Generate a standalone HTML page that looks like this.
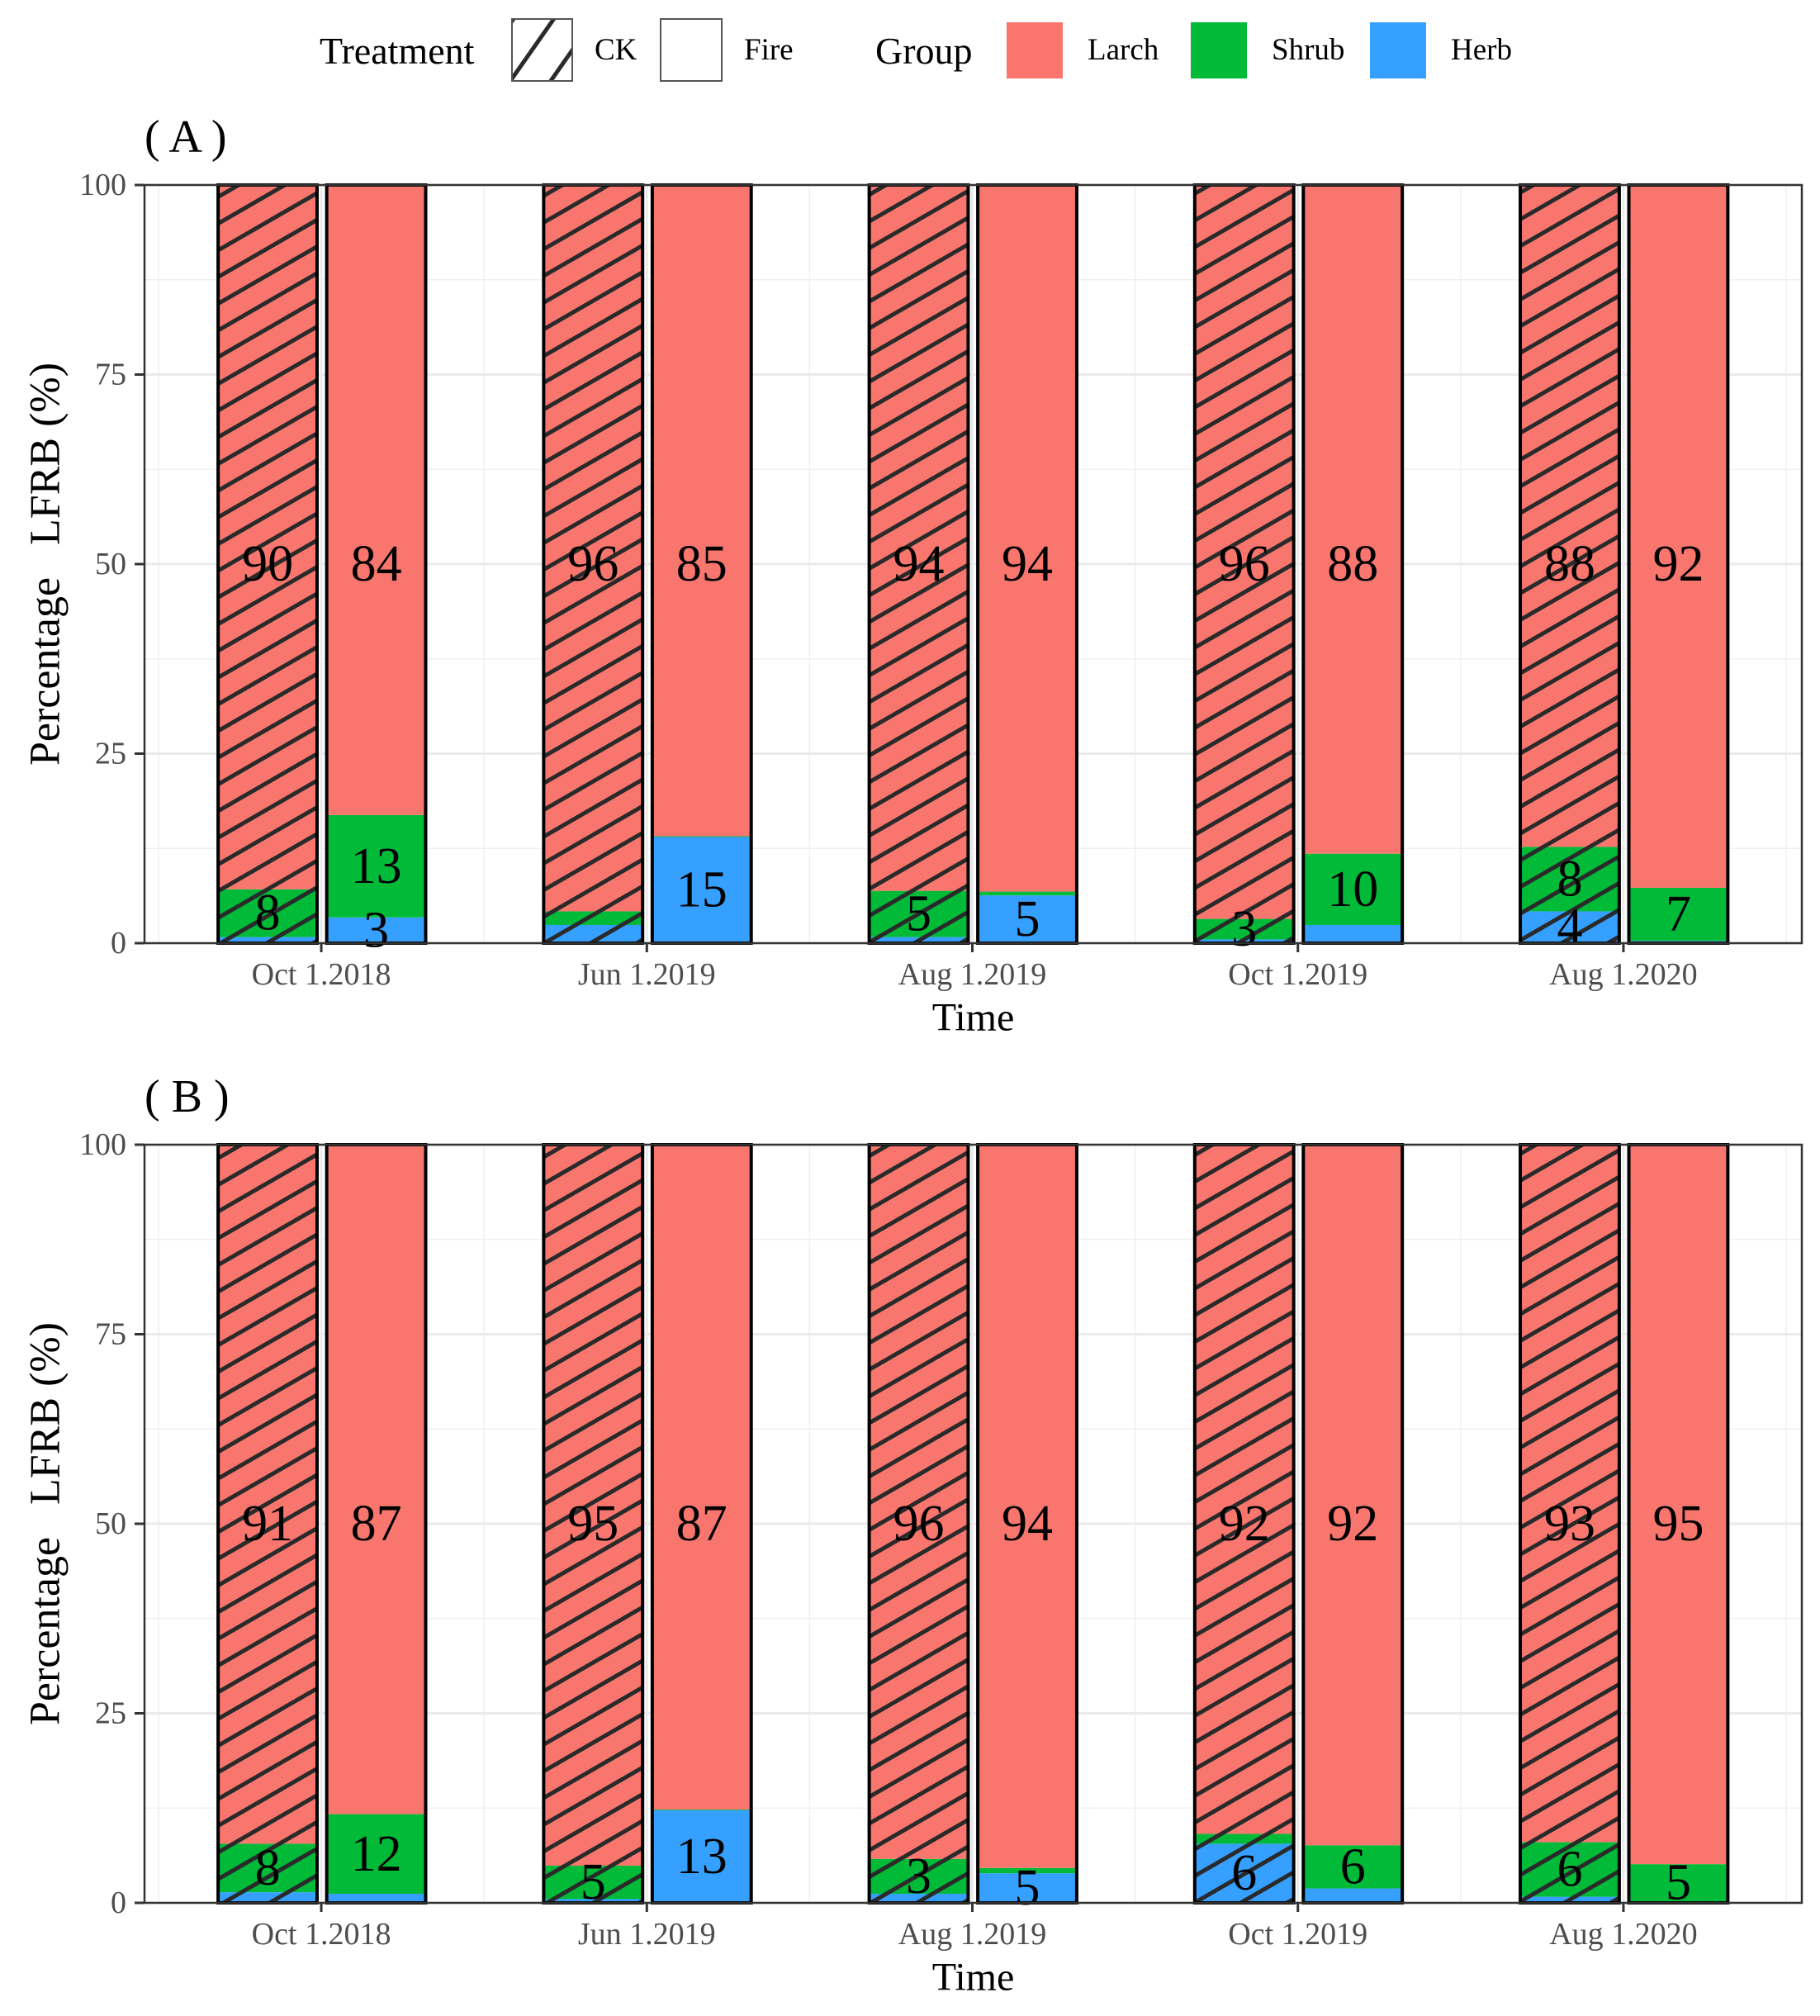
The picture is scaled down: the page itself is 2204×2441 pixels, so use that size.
<!DOCTYPE html>
<html><head><meta charset="utf-8"><style>
html,body{margin:0;padding:0;background:#fff;}
svg{display:block;font-family:"Liberation Serif",serif;}
</style></head><body>
<svg id="fig" width="2204" height="2441" viewBox="0 0 2204 2441" xmlns="http://www.w3.org/2000/svg">
<defs>
<pattern id="hatch" patternUnits="userSpaceOnUse" width="40" height="28" patternTransform="rotate(-30)">
<line x1="0" y1="2.5" x2="40" y2="2.5" stroke="#2a2a2a" stroke-width="5"/>
</pattern>
<pattern id="hatchKey" patternUnits="userSpaceOnUse" width="40" height="40" patternTransform="rotate(-55)">
<line x1="0" y1="2.5" x2="40" y2="2.5" stroke="#2a2a2a" stroke-width="5"/>
</pattern>
</defs>
<g>
<text x="387" y="77" font-size="46">Treatment</text>
<rect x="620" y="23" width="73" height="75" fill="url(#hatchKey)" stroke="#555" stroke-width="2"/>
<text x="720" y="72" font-size="37">CK</text>
<rect x="800" y="23" width="74" height="75" fill="#fff" stroke="#555" stroke-width="2"/>
<text x="901" y="72" font-size="37">Fire</text>
<text x="1060" y="77" font-size="46">Group</text>
<rect x="1219" y="27" width="68" height="68" fill="#F8766D"/>
<text x="1317" y="72" font-size="37">Larch</text>
<rect x="1442" y="27" width="68" height="68" fill="#00BA38"/>
<text x="1540" y="72" font-size="37">Shrub</text>
<rect x="1659" y="27" width="68" height="68" fill="#35A0FF"/>
<text x="1757" y="72" font-size="37">Herb</text>
</g>
</svg>
<script>
const categories = ["Oct 1.2018","Jun 1.2019","Aug 1.2019","Oct 1.2019","Aug 1.2020"];
const yTicks = [0,25,50,75,100];
// Panel A
const aCkHerb = [0.8,2.4,0.8,0.5,4.2];
const aCkShrub = [6.3,1.8,6.1,2.7,8.5];
const aFireHerb = [3.4,14.0,6.3,2.4,0.3];
const aFireShrub = [13.5,0.1,0.5,9.4,7.0];
const aCkLabels = [["","8","90"],["","","96"],["","5","94"],["","3","96"],["4","8","88"]];
const aFireLabels = [["3","13","84"],["15","","85"],["5","","94"],["","10","88"],["","7","92"]];
// Panel B
const bCkHerb = [1.4,0.5,1.2,7.8,0.8];
const bCkShrub = [6.4,4.4,4.6,1.3,7.2];
const bFireHerb = [1.2,12.2,3.9,1.9,0.2];
const bFireShrub = [10.5,0.1,0.7,5.7,4.9];
const bCkLabels = [["","8","91"],["","5","95"],["","3","96"],["6","","92"],["","6","93"]];
const bFireLabels = [["","12","87"],["13","","87"],["5","","94"],["","6","92"],["","5","95"]];

const NS="http://www.w3.org/2000/svg";
const svg=document.getElementById('fig');
function mk(tag,attrs,parent){const e=document.createElementNS(NS,tag);for(const k in attrs)e.setAttribute(k,attrs[k]);(parent||svg).appendChild(e);return e;}
const colors={herb:"#35A0FF",shrub:"#00BA38",larch:"#F8766D"};

function panel(top,tag,ckH,ckS,fiH,fiS,ckL,fiL){
  const L=175,R=2182,T=top,B=top+918;
  const x0=0.457,x1=5.548;
  const xs=v=>L+(v-x0)/(x1-x0)*(R-L);
  const ys=v=>B-v/100*(B-T);
  const g=mk('g',{});
  
  
  for(let v=12.5;v<100;v+=25){const l=mk('line',{x1:L,x2:R,y1:ys(v),y2:ys(v),stroke:'#f0f0f0','stroke-width':1.5},g);}
  for(let i=0;i<=categories.length;i++){const x=xs(i+0.5);const l=mk('line',{x1:x,x2:x,y1:T,y2:B,stroke:'#f0f0f0','stroke-width':1.5},g);}
  yTicks.forEach(v=>{const l=mk('line',{x1:L,x2:R,y1:ys(v),y2:ys(v),stroke:'#ebebeb','stroke-width':3},g);});
  categories.forEach((c,i)=>{const l=mk('line',{x1:xs(i+1),x2:xs(i+1),y1:T,y2:B,stroke:'#ebebeb','stroke-width':3},g);});
  const barW=0.304*(R-L)/(x1-x0);
  function bar(i,off,h,s,labels,ck,name){
    const cx=xs(i+1)+off;const bx=cx-barW/2;
    const larch=100-h-s;
    const segs=[['herb',0,h],['shrub',h,s],['larch',h+s,larch]];
    segs.forEach((sg,k)=>{
      const r=mk('rect',{x:bx,y:ys(sg[1]+sg[2]),width:barW,height:ys(sg[1])-ys(sg[1]+sg[2]),fill:colors[sg[0]]},g);
      
      
    });
    if(ck){const hr=mk('rect',{x:bx,y:ys(100),width:barW,height:ys(0)-ys(100),fill:'url(#hatch)'},g);}
    const o=mk('rect',{x:bx,y:ys(100),width:barW,height:ys(0)-ys(100),fill:'none',stroke:'#000','stroke-width':4},g);
    
    
    segs.forEach((sg,k)=>{
      const txt=labels[i][k];if(!txt)return;
      const yv=k===2?50:sg[1]+sg[2]/2;
      const t=mk('text',{x:cx,y:ys(yv),'text-anchor':'middle','dominant-baseline':'central','font-size':62,fill:'#000'},g);
      t.textContent=txt;
      
      
    });
  }
  categories.forEach((c,i)=>{
    bar(i,-65,ckH[i],ckS[i],ckL,true,'bar-ck');
    bar(i,66.5,fiH[i],fiS[i],fiL,false,'bar-fire');
  });
  const bd=mk('rect',{x:L,y:T,width:R-L,height:B-T,fill:'none',stroke:'#333','stroke-width':2.5},g);
  
  yTicks.forEach(v=>{
    const l=mk('line',{x1:L-12,x2:L,y1:ys(v),y2:ys(v),stroke:'#333','stroke-width':3},g);
    
    const t=mk('text',{x:L-22,y:ys(v),'text-anchor':'end','dominant-baseline':'central','font-size':38,fill:'#4d4d4d'},g);
    t.textContent=v;
  });
  categories.forEach((c,i)=>{
    const x=xs(i+1);
    const l=mk('line',{x1:x,x2:x,y1:B,y2:B+11,stroke:'#333','stroke-width':3},g);
    
    const t=mk('text',{x:x,y:B+38,'text-anchor':'middle','dominant-baseline':'central','font-size':38,fill:'#4d4d4d'},g);
    t.textContent=c;
  });
  const xt=mk('text',{x:(L+R)/2,y:B+90,'text-anchor':'middle','dominant-baseline':'central','font-size':48},g);
  xt.textContent='Time';
  const yt=mk('text',{x:0,y:0,'text-anchor':'middle','dominant-baseline':'central','font-size':52,transform:'translate(55,'+((T+B)/2)+') rotate(-90)'},g);
  yt.textContent='Percentage\u00A0\u00A0\u00A0LFRB (%)';
  const pt=mk('text',{x:175,y:T-58,'dominant-baseline':'central','font-size':56},g);
  pt.textContent='( '+tag+' )';
}
panel(224,'A',aCkHerb,aCkShrub,aFireHerb,aFireShrub,aCkLabels,aFireLabels);
panel(1386,'B',bCkHerb,bCkShrub,bFireHerb,bFireShrub,bCkLabels,bFireLabels);
</script>
</body></html>
